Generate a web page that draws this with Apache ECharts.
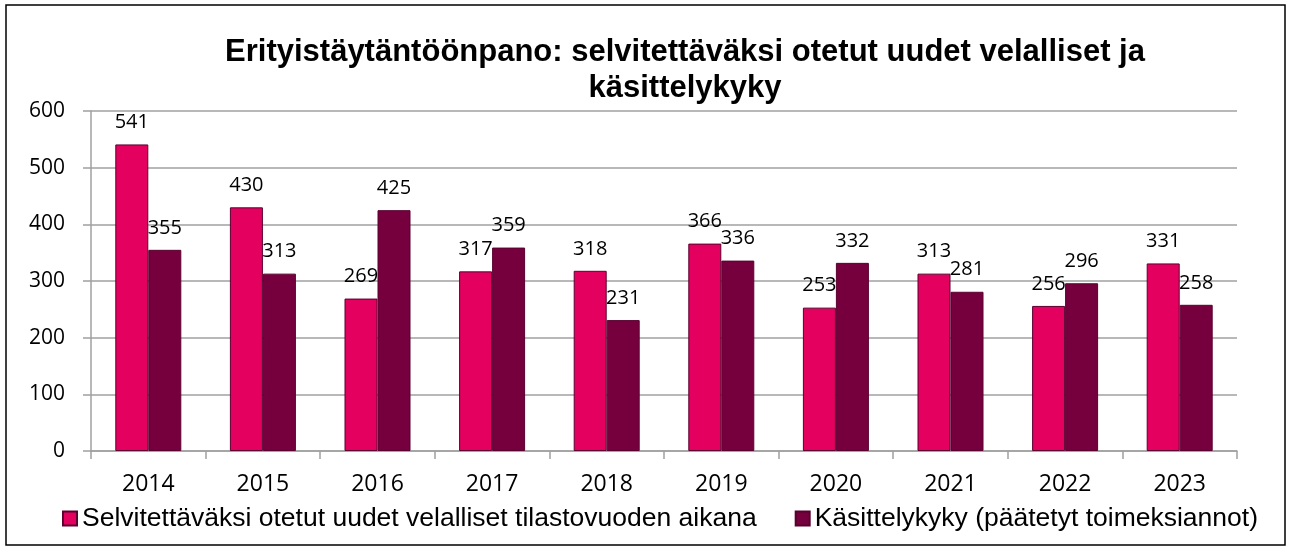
<!DOCTYPE html>
<html lang="fi">
<head>
<meta charset="UTF-8">
<title>Erityistäytäntöönpano</title>
<script src="https://cdn.jsdelivr.net/npm/echarts@6/dist/echarts.min.js"></script>
<style>
  html, body { margin: 0; padding: 0; background: #fff; }
  #chart { width: 1291px; height: 550px; }
</style>
</head>
<body>
<div id="chart"></div>
<script>
var years = ['2014', '2015', '2016', '2017', '2018', '2019', '2020', '2021', '2022', '2023'];
var uudetVelalliset = [541, 430, 269, 317, 318, 366, 253, 313, 256, 331];
var kasittelykyky = [355, 313, 425, 359, 231, 336, 332, 281, 296, 258];
var seriesNames = [
    'Selvitettäväksi otetut uudet velalliset tilastovuoden aikana',
    'Käsittelykyky (päätetyt toimeksiannot)'
];

var pink = '#e3005f';
var maroon = '#76003d';
var gridGray = '#a0a0a0';
var numFont = 'Open Sans';

var chart = echarts.init(document.getElementById('chart'));

var labelStyle = {
    show: true,
    position: 'top',
    distance: 12,
    color: '#000',
    fontFamily: numFont,
    fontSize: 20
};

var option = {
    animation: false,
    title: {
        text: 'Erityistäytäntöönpano: selvitettäväksi otetut uudet velalliset ja\nkäsittelykyky',
        left: 680,
        textAlign: 'center',
        top: 29,
        textStyle: {
            fontFamily: 'Liberation Sans',
            fontWeight: 'bold',
            fontSize: 31,
            lineHeight: 36,
            color: '#000'
        }
    },
    graphic: [{
        type: 'rect',
        shape: { x: 6, y: 5, width: 1279, height: 540 },
        style: { fill: null, stroke: '#000', lineWidth: 1.5 },
        silent: true
    }],
    legend: {
        bottom: 13,
        left: 57,
        itemGap: 38,
        itemWidth: 14,
        itemHeight: 14,
        icon: 'rect',
        textStyle: {
            fontFamily: 'Liberation Sans',
            fontSize: 26.5,
            color: '#000'
        },
        data: seriesNames
    },
    grid: {
        left: 91,
        right: 54,
        top: 111,
        bottom: 99
    },
    xAxis: {
        type: 'category',
        data: years,
        axisLine: { lineStyle: { color: gridGray, width: 1.5 } },
        axisTick: { show: true, length: 8, lineStyle: { color: gridGray, width: 1.5 } },
        axisLabel: {
            color: '#000',
            fontFamily: numFont,
            fontSize: 23,
            margin: 22
        }
    },
    yAxis: {
        type: 'value',
        min: 0,
        max: 600,
        interval: 100,
        axisLine: { show: true, lineStyle: { color: gridGray, width: 1.5 } },
        axisTick: { show: true, length: 8, lineStyle: { color: gridGray, width: 1.5 } },
        splitLine: { lineStyle: { color: gridGray, width: 1.5 } },
        axisLabel: {
            color: '#000',
            fontFamily: numFont,
            fontSize: 21,
            margin: 26
        }
    },
    series: [{
        name: seriesNames[0],
        type: 'bar',
        data: uudetVelalliset,
        barWidth: 33,
        barGap: '0%',
        itemStyle: { color: pink, borderColor: '#5a0030', borderWidth: 1 },
        label: labelStyle
    }, {
        name: seriesNames[1],
        type: 'bar',
        data: kasittelykyky,
        barWidth: 33,
        barGap: '0%',
        itemStyle: { color: maroon, borderColor: '#5a0030', borderWidth: 1 },
        label: labelStyle
    }]
};

chart.setOption(option);
</script>
</body>
</html>
